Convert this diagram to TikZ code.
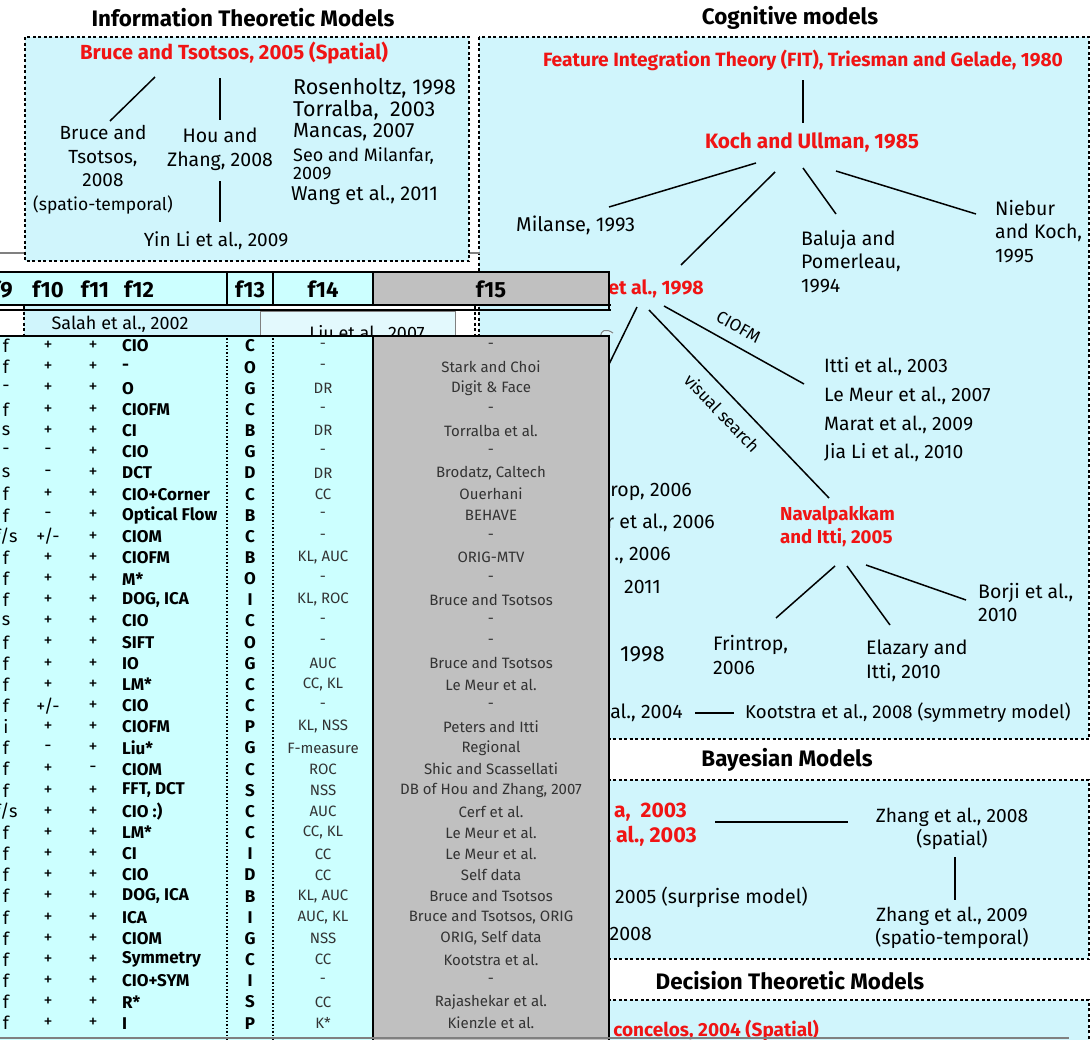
\documentclass[tikz,border=0pt]{standalone}
\usepackage{fontspec}
\setmainfont{Fira Sans}
\usetikzlibrary{calc}

\definecolor{boxcyan}{RGB}{208,245,252}
\definecolor{tabcyan}{RGB}{204,255,255}
\definecolor{tabgray}{RGB}{192,192,192}
\definecolor{modred}{RGB}{240,20,20}

\newcommand{\fsz}[1]{\fontsize{#1}{23.5}\selectfont}

\tikzset{
  modbox/.style={draw=black, fill=boxcyan, line width=1.5pt, dash pattern=on 3pt off 2.5pt},
  ttl/.style={font=\fontsize{22.4}{24}\selectfont\bfseries, inner sep=1pt},
  ref/.style={font=\fsz{19.5}, inner sep=1pt, align=center},
  refl/.style={ref, align=left},
  key/.style={font=\fsz{19.5}\bfseries, text=modred, inner sep=1pt, align=left},
  link/.style={line width=1.5pt},
  edgelbl/.style={font=\fontsize{17}{19}\selectfont, inner sep=1pt},
  hdr/.style={font=\fontsize{22}{24}\selectfont\bfseries, inner sep=0pt},
  tabreg/.style={font=\fontsize{18}{20}\selectfont, inner sep=0pt},
  tabbold/.style={font=\fontsize{17}{20}\selectfont\bfseries, inner sep=0pt},
  tabsmall/.style={font=\fontsize{15}{18}\selectfont, text=black!80, inner sep=0pt},
}

\begin{document}
\begin{tikzpicture}[x=1pt,y=-1pt]
\useasboundingbox (0,0) rectangle (1092,1039);
\clip (0,0) rectangle (1092,1039);
\fill[white] (0,0) rectangle (1092,1039);

% model boxes on the right
\draw[modbox] (479,37) rectangle (1089,739);
\draw[modbox] (479,780) rectangle (1089,959);
\draw[modbox] (479,1000) rectangle (1089,1080);
\draw[gray, line width=1.5pt] (0,253) -- (480,253);
\draw[modbox] (25,37) rectangle (469,261);

% information theoretic models
\node[ttl] (infottl) at (243,18) {Information Theoretic Models};
\node[key, font=\fsz{20.4}\bfseries] (bt05) at (234,53) {Bruce and Tsotsos, 2005 (Spatial)};
\node[ref, font=\fsz{19}] (bt08) at (103,169.5) {Bruce and\\Tsotsos,\\2008\\{\fontsize{17.5}{23.5}\selectfont(spatio-temporal)}};
\node[ref] (hz08) at (220,149.5) {Hou and\\Zhang, 2008};
\node[ref, font=\fsz{19}] (yl09) at (216,241) {Yin Li et al., 2009};
\node[refl, anchor=west, font=\fsz{21.5}] (ros98) at (292,88) {Rosenholtz, 1998};
\node[refl, anchor=west, font=\fsz{21.5}] (tor03) at (292,110) {Torralba,\ \ 2003};
\node[refl, anchor=west, font=\fsz{20.5}] (man07) at (292,132) {Mancas, 2007};
\node[refl, anchor=west, font=\fontsize{18}{17.5}\selectfont] (seo09) at (292,163.5) {Seo and Milanfar,\\2009};
\node[refl, anchor=west, font=\fsz{20}] (wan11) at (290,195) {Wang et al., 2011};
\draw[link] ($(bt05)+(-79,24)$) -- ($(bt08)+(7,-48.5)$);
\draw[link] ($(bt05)+(-14,25)$) -- ($(hz08)+(0,-29.5)$);
\draw[link] ($(hz08)+(0,31.5)$) -- ($(yl09)+(4,-19)$);

% cognitive models
\node[ttl] (cogttl) at (790,18) {Cognitive models};
\node[key, font=\fsz{19.2}\bfseries] (fit80) at (803,60) {Feature Integration Theory (FIT), Triesman and Gelade, 1980};
\node[key, font=\fsz{20.8}\bfseries] (ku85) at (812,142) {Koch and Ullman, 1985};
\node[refl, anchor=west, font=\fsz{20}] (mil93) at (515,225) {Milanse, 1993};
\node[key, anchor=east] (itti98) at (705,288) {Itti et al., 1998};
\node[refl, anchor=west] (bal94) at (800,261.5) {Baluja and\\Pomerleau,\\1994};
\node[refl, anchor=west] (nk95) at (994,231.5) {Niebur\\and Koch,\\1995};
\node[refl, anchor=west, font=\fontsize{19.3}{28.7}\selectfont] (cio) at (823,410) {Itti et al., 2003\\Le Meur et al., 2007\\Marat et al., 2009\\Jia Li et al., 2010};
\node[key, anchor=west, font=\fsz{18.7}\bfseries] (nav05) at (779,526.5) {Navalpakkam\\and Itti, 2005};
\node[refl, anchor=west] (frin06) at (712,655) {Frintrop,\\2006};
\node[refl, anchor=west] (ela10) at (865,661) {Elazary and\\Itti, 2010};
\node[refl, anchor=west] (bor10) at (977,602.5) {Borji et al.,\\2010};
\node[refl, anchor=east] (fr06) at (693,492) {rop, 2006};
\node[refl, anchor=east] (lm06) at (716,523) {r et al., 2006};
\node[refl, anchor=east] (x06) at (672,555) {., 2006};
\node[refl, anchor=east] (x11) at (662,587) {2011};
\node[refl, anchor=east, font=\fsz{22}] (x98) at (666,654) {1998};
\node[refl, anchor=east] (x04) at (684,713) {al., 2004};
\node[refl, anchor=west, font=\fsz{18.6}] (koot08) at (744,713) {Kootstra et al., 2008 (symmetry model)};
\coordinate (hid) at (590,403);
\draw[link] ($(fit80)+(0,20)$) -- ($(ku85)+(-9,-19)$);
\draw[link] ($(ku85)+(-56,21)$) -- ($(mil93.west)+(94,-18)$);
\draw[link] ($(ku85)+(-37,30)$) -- ($(itti98.east)+(-24,-23)$);
\draw[link] ($(ku85)+(-9,26)$) -- ($(bal94.west)+(36,-47.5)$);
\draw[link] ($(ku85)+(24,29)$) -- ($(nk95.west)+(-18,-17.5)$);
\draw[link] ($(itti98.east)+(-68,19)$) -- (hid);
\draw[link] ($(itti98.east)+(-41,18)$) -- node[edgelbl, sloped, above=10pt, pos=0.47] (ciofmlbl) {CIOFM} ($(cio.west)+(-19,-26)$);
\draw[link] ($(itti98.east)+(-56,22)$) -- node[edgelbl, sloped, below=10pt, pos=0.48] (vslbl) {visual search} ($(nav05.west)+(50,-28.5)$);
\draw[link] ($(nav05.west)+(56,39.5)$) -- ($(frin06.west)+(64,-37)$);
\draw[link] ($(nav05.west)+(68,39.5)$) -- ($(ela10.west)+(25,-36)$);
\draw[link] ($(nav05.west)+(87,38.5)$) -- ($(bor10.west)+(-11,-2.5)$);
\draw[link] ($(x04.east)+(11,0)$) -- ($(koot08.west)+(-10,0)$);

% bayesian models
\node[ttl] (bayttl) at (787,760) {Bayesian Models};
\node[key, anchor=east, font=\fsz{21}\bfseries] (tor03b) at (688,812) {a,\ \ 2003};
\node[key, anchor=east, font=\fsz{21.5}\bfseries] (x03) at (698,836) {t al., 2003};
\node[ref, font=\fsz{19.2}] (zh08) at (952,829) {Zhang et al., 2008\\(spatial)};
\node[ref, font=\fsz{19.2}] (zh09) at (952,928) {Zhang et al., 2009\\(spatio-temporal)};
\node[refl, anchor=east] (ib05) at (809,897) {i, 2005 (surprise model)};
\node[refl, anchor=east] (x08) at (653,934) {2008};
\draw[link] ($(tor03b.east)+(27,10)$) -- ($(zh08)+(-104,-7)$);
\draw[link] ($(zh08)+(3,28)$) -- ($(zh09)+(3,-28)$);

% decision theoretic models
\node[ttl] (decttl) at (790,981) {Decision Theoretic Models};
\node[key, anchor=east, font=\fsz{19}\bfseries] (vas04) at (820,1030) {concelos, 2004 (Spatial)};

% boxes peeking out under the header
\fill[boxcyan] (24,306) rectangle (260,336);
\draw[line width=1.5pt, dash pattern=on 3pt off 2.5pt] (24,306) -- (24,336);
\draw[line width=1.5pt, dash pattern=on 3pt off 2.5pt] (475,306) -- (475,336);
\node[tabreg] (salah) at (120,324) {Salah et al., 2002};
\draw[gray, fill=boxcyan!60, line width=1pt] (260,311) rectangle (455,350);
\node[tabreg] (liu07) at (367,334) {Liu et al., 2007};
\draw[gray, fill=boxcyan!60, line width=1pt] (601,337) .. controls (600,330) and (606,328) .. (613,333);

% table header
\fill[tabcyan] (-5,272) rectangle (373,304);
\fill[tabgray] (373,272) rectangle (609,304);
\foreach \x in {227,273,373} {
  \draw[line width=1.5pt] (\x,272) -- (\x,304);
}
\draw[line width=2.5pt] (-5,272) -- (609,272) -- (609,310);
\draw[line width=2.5pt] (-5,305) -- (611,305);
\draw[line width=2pt] (-5,309.5) -- (611,309.5);
\node[hdr, anchor=east] (h9) at (13,289) {f9};
\node[hdr] (h10) at (48,289) {f10};
\node[hdr] (h11) at (95,289) {f11};
\node[hdr] (h12) at (139,289) {f12};
\node[hdr] (h13) at (250,289) {f13};
\node[hdr] (h14) at (323,289) {f14};
\node[hdr] (h15) at (491,289) {f15};

% table body
\fill[tabcyan] (-5,336) rectangle (373,1045);
\fill[tabgray] (373,336) rectangle (609,1045);
\draw[line width=1.5pt] (373,336) -- (373,1045);
\foreach \x in {227,273} {
  \draw[line width=1.2pt, dash pattern=on 1.5pt off 2pt] (\x,338) -- (\x,1045);
}
\draw[line width=2.5pt] (-5,336) -- (609,336) -- (609,1045);
\foreach \ca/\cb/\cc/\cd/\ce/\cf/\cg [count=\i] in {
  f/+/+/CIO/C/-/-,
  f/+/+/-/O/-/Stark and Choi,
  -/+/+/O/G/DR/Digit \& Face,
  f/+/+/CIOFM/C/-/-,
  s/+/+/CI/B/DR/Torralba et al.,
  -/-/+/CIO/G/-/-,
  s/-/+/DCT/D/DR/{Brodatz, Caltech},
  f/+/+/CIO+Corner/C/CC/Ouerhani,
  f/-/+/Optical Flow/B/-/BEHAVE,
  {f/s}/{+/-}/+/CIOM/C/-/-,
  f/+/+/CIOFM/B/{KL, AUC}/ORIG-MTV,
  f/+/+/M*/O/-/-,
  f/+/+/{DOG, ICA}/I/{KL, ROC}/Bruce and Tsotsos,
  s/+/+/CIO/C/-/-,
  f/+/+/SIFT/O/-/-,
  f/+/+/IO/G/AUC/Bruce and Tsotsos,
  f/+/+/LM*/C/{CC, KL}/Le Meur et al.,
  f/{+/-}/+/CIO/C/-/-,
  i/+/+/CIOFM/P/{KL, NSS}/Peters and Itti,
  f/-/+/Liu*/G/F-measure/Regional,
  f/+/-/CIOM/C/ROC/Shic and Scassellati,
  f/+/+/{FFT, DCT}/S/NSS/{DB of Hou and Zhang, 2007},
  {f/s}/+/+/CIO :)/C/AUC/Cerf et al.,
  f/+/+/LM*/C/{CC, KL}/Le Meur et al.,
  f/+/+/CI/I/CC/Le Meur et al.,
  f/+/+/CIO/D/CC/Self data,
  f/+/+/{DOG, ICA}/B/{KL, AUC}/Bruce and Tsotsos,
  f/+/+/ICA/I/{AUC, KL}/{Bruce and Tsotsos, ORIG},
  f/+/+/CIOM/G/NSS/{ORIG, Self data},
  f/+/+/Symmetry/C/CC/Kootstra et al.,
  f/+/+/CIO+SYM/I/-/-,
  f/+/+/R*/S/CC/Rajashekar et al.,
  f/+/+/I/P/K*/Kienzle et al.
}{
  \node[tabreg] (r\i-9) at (6,{324.84+\i*21.16}) {\ca};
  \node[tabreg] (r\i-10) at (48,{324.84+\i*21.16}) {\cb};
  \node[tabreg] (r\i-11) at (93,{324.84+\i*21.16}) {\cc};
  \node[tabbold, anchor=west] (r\i-12) at (122,{324.84+\i*21.16}) {\cd};
  \node[tabbold] (r\i-13) at (250,{324.84+\i*21.16}) {\ce};
  \node[tabsmall] (r\i-14) at (323,{324.84+\i*21.16}) {\cf};
  \node[tabsmall] (r\i-15) at (491,{324.84+\i*21.16}) {\cg};
}
\draw[gray, line width=2pt] (0,1037.5) -- (1069,1037.5);
\end{tikzpicture}
\end{document}
